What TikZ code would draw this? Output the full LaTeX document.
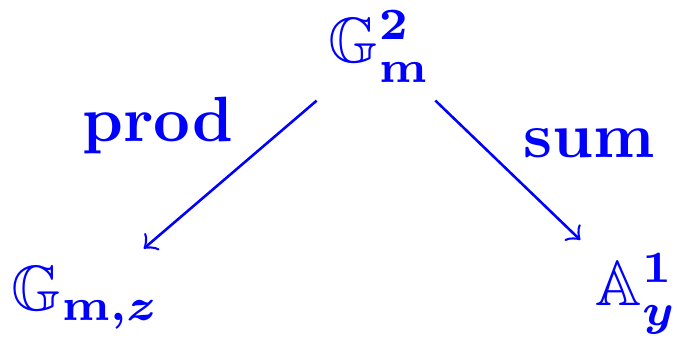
\documentclass[tikz,border=0pt]{standalone}
\usepackage{amssymb}
\usepackage{bm}
\definecolor{dblue}{RGB}{0,0,255}
\begin{document}
\begin{tikzpicture}[x=0.15625pt,y=-0.15625pt,
  obj/.style={inner sep=0pt,outer sep=0pt,text=dblue,font=\boldmath},
  lbl/.style={inner sep=0pt,text=dblue,font=\bfseries},
  arr/.style={->,draw=dblue,line width=0.4pt}]
\useasboundingbox (0,0) rectangle (677,339);
\node[obj,anchor=base west] (top) at (329,63) {$\mathbb{G}_{\mathbf m}^{2}$};
\node[obj,anchor=base west] (left) at (12,311) {$\mathbb{G}_{\mathbf m,z}$};
\node[obj,anchor=base west] (right) at (596,306) {$\mathbb{A}^{1}_{y}$};
\node[lbl,anchor=base west] (prod) at (81,142) {prod};
\node[lbl,anchor=base west] (sum) at (522,158) {sum};
\draw[arr,shorten <=4.3pt,shorten >=4.4pt] (top) -- (left);
\draw[arr,shorten <=4.0pt,shorten >=3.4pt] (top) -- (right);
\end{tikzpicture}
\end{document}
